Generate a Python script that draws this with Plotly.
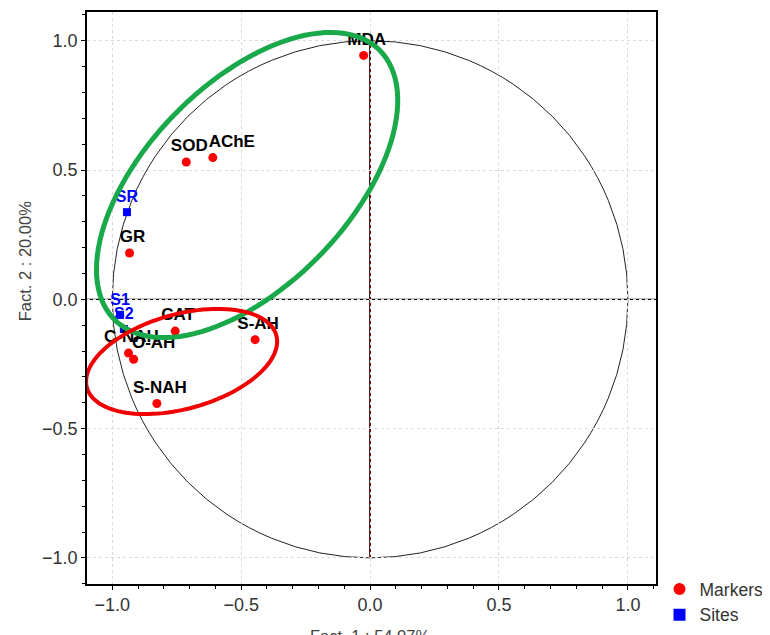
import numpy as np
import plotly.graph_objects as go

# ---- data ----
marker_names = ["MDA", "SOD", "AChE", "GR", "CAT", "S-AH", "C-NAH", "O-AH", "S-NAH"]
marker_x = [-0.025, -0.713, -0.610, -0.933, -0.756, -0.446, -0.937, -0.917, -0.827]
marker_y = [0.943, 0.531, 0.548, 0.179, -0.123, -0.156, -0.208, -0.232, -0.403]

site_names = ["SR", "S1", "S2"]
site_x = [-0.943, -0.970, -0.955]
site_y = [0.337, -0.060, -0.115]

x_ticks = [-1.0, -0.5, 0.0, 0.5, 1.0]
y_ticks = [-1.0, -0.5, 0.0, 0.5, 1.0]
x_title = "Fact. 1 : 54.07%"
y_title = "Fact. 2 : 20.00%"

# label placement (style): horizontal nudge of each marker label, in pixels
label_nudge_px = [3, 3, 19, 3, 3, 3, 3, 20, 3]
PX_PER_UNIT = 258.0

FONT = "Liberation Sans, Arial, sans-serif"


def ellipse_path(cx, cy, a, b, ang_deg, n=120):
    t = np.linspace(0, 2 * np.pi, n)
    th = np.deg2rad(ang_deg)
    xs = cx + a * np.cos(t) * np.cos(th) - b * np.sin(t) * np.sin(th)
    ys = cy + a * np.cos(t) * np.sin(th) + b * np.sin(t) * np.cos(th)
    p = "M " + " L ".join(f"{x:.4f},{y:.4f}" for x, y in zip(xs, ys)) + " Z"
    return p


fig = go.Figure()

fig.add_trace(go.Scatter(
    x=marker_x, y=marker_y, mode="markers", name="Markers",
    marker=dict(color="#ff0000", size=9, symbol="circle"),
))
fig.add_trace(go.Scatter(
    x=site_x, y=site_y, mode="markers+text", name="Sites",
    text=site_names, textposition="top center",
    textfont=dict(family=FONT, size=16, color="#0000ff", weight="bold"),
    marker=dict(color="#0000ff", size=8, symbol="square"),
))
# marker labels (nudged horizontally, invisible anchor points)
fig.add_trace(go.Scatter(
    x=[x + d / PX_PER_UNIT for x, d in zip(marker_x, label_nudge_px)], y=marker_y,
    mode="markers+text", text=marker_names, textposition="top center",
    textfont=dict(family=FONT, size=17, color="black", weight="bold"),
    marker=dict(size=9, opacity=0), showlegend=False, hoverinfo="skip",
))

shapes = [
    # unit circle
    dict(type="circle", xref="x", yref="y", x0=-1, y0=-1, x1=1, y1=1,
         line=dict(color="#222222", width=1), layer="below"),
    # vertical axis line inside circle
    dict(type="line", xref="x", yref="y", x0=0, y0=-1, x1=0, y1=1,
         line=dict(color="black", width=1.8), layer="below"),
    dict(type="line", xref="x", yref="y", x0=0, y0=-1, x1=0, y1=1,
         line=dict(color="#cc0000", width=1, dash="dot"), layer="below"),
    # horizontal axis line across plot
    dict(type="line", xref="paper", yref="y", x0=0, y0=0, x1=1, y1=0,
         line=dict(color="black", width=1.3), layer="below"),
    # green ellipse
    dict(type="path", xref="x", yref="y",
         path=ellipse_path(-0.477, 0.442, 0.732, 0.392, 45.5),
         line=dict(color="#19a84a", width=5), layer="above"),
    # red ellipse
    dict(type="path", xref="x", yref="y",
         path=ellipse_path(-0.731, -0.2405, 0.381, 0.183, 15.4),
         line=dict(color="#f00000", width=4), layer="above"),
]

axis_common = dict(
    showline=True, linecolor="black", linewidth=1.5, mirror=True,
    ticks="outside", ticklen=4, tickcolor="black",
    showgrid=True, gridcolor="#dadada", griddash="dot", gridwidth=1,
    zeroline=False,
    tickfont=dict(family=FONT, size=18, color="#333333"),
    tickformat=".1f",
    minor=dict(dtick=0.1, ticks="outside", ticklen=3, tickcolor="black", showgrid=False),
)

# page body has an 8px default margin; figure is sized to compensate
fig.update_layout(
    width=762, height=627,
    margin=dict(l=79, r=114, t=4, b=51, autoexpand=False),
    plot_bgcolor="white", paper_bgcolor="white",
    shapes=shapes,
    xaxis=dict(range=[-1.098, 1.109], tickvals=x_ticks, **axis_common),
    yaxis=dict(range=[-1.101, 1.111], tickvals=y_ticks, ticklabelstandoff=0, **axis_common),
    showlegend=True,
    legend=dict(xref="container", yref="container", x=0.855, y=0.102,
                xanchor="left", yanchor="top",
                font=dict(family=FONT, size=17.5, color="#333333"),
                bgcolor="rgba(0,0,0,0)", tracegroupgap=0,
                itemsizing="constant"),
    annotations=[
        dict(text=x_title, xref="x", yref="paper", x=0, y=0, xanchor="center",
             yanchor="top", yshift=-41, showarrow=False,
             font=dict(family=FONT, size=16.5, color="#444444")),
        dict(text=y_title, xref="paper", yref="y", x=0, y=0.147, xanchor="center",
             yanchor="middle", xshift=-62, textangle=-90, showarrow=False,
             font=dict(family=FONT, size=16.5, color="#444444")),
    ],
)

fig.write_html("out.html")
